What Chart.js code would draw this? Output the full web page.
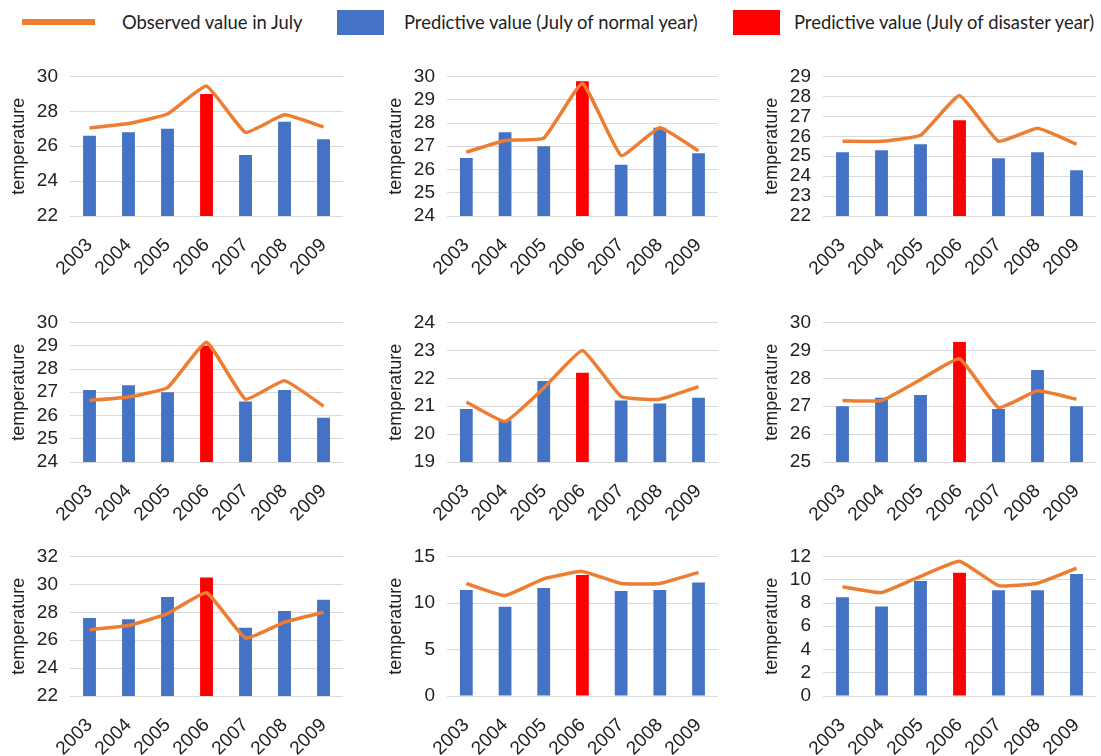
<!DOCTYPE html>
<html>
<head>
<meta charset="utf-8">
<title>July temperature: observed vs predicted</title>
<script src="https://cdn.jsdelivr.net/npm/chart.js@4.4.1/dist/chart.umd.min.js"></script>
<style>
  body { margin: 0; background: #fff; width: 1101px; height: 756px; overflow: hidden; position: relative; font-family: Lato, "Open Sans", sans-serif; color: #222; }
  .sw { position: absolute; }
  .lbl { position: absolute; font-size: 18.4px; line-height: 20px; white-space: nowrap; }
  .panel { position: absolute; }
</style>
</head>
<body>
<div class="sw" style="left:22px;top:19px;width:73px;height:6px;background:#ed7d31"></div>
<div class="lbl" style="left:122px;top:12px">Observed value in July</div>
<div class="sw" style="left:337px;top:10px;width:47px;height:25px;background:#4472c4"></div>
<div class="lbl" style="left:404px;top:12px">Predictive value (July of normal year)</div>
<div class="sw" style="left:733px;top:10px;width:47px;height:25px;background:#ff0000"></div>
<div class="lbl" style="left:794px;top:12px">Predictive value (July of disaster year)</div>

<script>
const years = ["2003", "2004", "2005", "2006", "2007", "2008", "2009"];
const disasterYear = "2006";

// observed July temperature (line) and predicted value (bars), one pair per site
const observed1 = [27.05, 27.3, 27.85, 29.45, 26.8, 27.8, 27.1];
const predicted1 = [26.6, 26.8, 27.0, 29.0, 25.5, 27.4, 26.4];
const observed2 = [26.75, 27.25, 27.35, 29.7, 26.6, 27.8, 26.8];
const predicted2 = [26.5, 27.6, 27.0, 29.8, 26.2, 27.8, 26.7];
const observed3 = [25.75, 25.75, 26.05, 28.05, 25.75, 26.4, 25.6];
const predicted3 = [25.2, 25.3, 25.6, 26.8, 24.9, 25.2, 24.3];
const observed4 = [26.65, 26.8, 27.2, 29.15, 26.7, 27.5, 26.4];
const predicted4 = [27.1, 27.3, 27.0, 29.0, 26.6, 27.1, 25.9];
const observed5 = [21.15, 20.45, 21.65, 23.0, 21.35, 21.25, 21.7];
const predicted5 = [20.9, 20.5, 21.9, 22.2, 21.2, 21.1, 21.3];
const observed6 = [27.2, 27.2, 27.95, 28.7, 26.95, 27.55, 27.25];
const predicted6 = [27.0, 27.3, 27.4, 29.3, 26.9, 28.3, 27.0];
const observed7 = [26.75, 27.05, 27.9, 29.4, 26.15, 27.3, 28.0];
const predicted7 = [27.6, 27.5, 29.1, 30.5, 26.9, 28.1, 28.9];
const observed8 = [12.1, 10.8, 12.6, 13.4, 12.1, 12.1, 13.3];
const predicted8 = [11.4, 9.6, 11.6, 13.0, 11.3, 11.4, 12.2];
const observed9 = [9.4, 8.9, 10.3, 11.6, 9.5, 9.7, 11.0];
const predicted9 = [8.5, 7.7, 9.9, 10.6, 9.1, 9.1, 10.5];

// y axis range per panel: [min, max, step]
const yTicks1 = [22, 30, 2];
const yTicks2 = [24, 30, 1];
const yTicks3 = [22, 29, 1];
const yTicks4 = [24, 30, 1];
const yTicks5 = [19, 24, 1];
const yTicks6 = [25, 30, 1];
const yTicks7 = [22, 32, 2];
const yTicks8 = [0, 15, 5];
const yTicks9 = [0, 12, 2];

const panels = [
  [observed1, predicted1, yTicks1], [observed2, predicted2, yTicks2], [observed3, predicted3, yTicks3],
  [observed4, predicted4, yTicks4], [observed5, predicted5, yTicks5], [observed6, predicted6, yTicks6],
  [observed7, predicted7, yTicks7], [observed8, predicted8, yTicks8], [observed9, predicted9, yTicks9]
];

// 3x3 grid of canvases
const colLeft = [0, 377, 753];
const colWidth = [350, 348, 350];
const rowTop = [55, 301, 535];
const H = 221;
const ink = "#222";

panels.forEach(([obs, pred, [lo, hi, step]], i) => {
  const box = document.createElement("div");
  box.className = "panel";
  box.style.left = colLeft[i % 3] + "px";
  box.style.top = rowTop[Math.floor(i / 3)] + "px";
  const canvas = document.createElement("canvas");
  canvas.width = colWidth[i % 3];
  canvas.height = H;
  box.appendChild(canvas);
  document.body.appendChild(box);

  new Chart(canvas.getContext("2d"), {
    data: {
      labels: years,
      datasets: [
        {
          type: "line",
          data: obs,
          borderColor: "#ed7d31",
          borderWidth: 3.5,
          pointRadius: 0,
          tension: 0.12,
          order: 0,
        },
        {
          type: "bar",
          data: pred,
          backgroundColor: years.map((y) => (y === disasterYear ? "#ff0000" : "#4472c4")),
          barPercentage: 1,
          categoryPercentage: 0.33,
          order: 1,
        },
      ],
    },
    options: {
      responsive: false,
      animation: false,
      devicePixelRatio: 1,
      layout: { padding: { top: 12, right: 5, left: 0, bottom: 0 } },
      plugins: { legend: { display: false }, tooltip: { enabled: false } },
      scales: {
        x: {
          grid: { display: false },
          border: { display: false },
          ticks: { color: ink, font: { size: 19 }, minRotation: 45, maxRotation: 45, autoSkip: false, padding: 10 },
          afterFit(scale) { scale.height = 60; },
        },
        y: {
          min: lo,
          max: hi,
          grid: { color: "#d9d9d9", drawTicks: false },
          border: { display: false },
          ticks: { stepSize: step, autoSkip: false, color: ink, font: { size: 19, lineHeight: 1 }, padding: 12 },
          title: { display: true, text: "temperature", color: ink, font: { size: 18 }, padding: { top: 8, bottom: 0 } },
          afterFit(scale) { scale.width = 70; },
        },
      },
    },
  });
});
</script>
</body>
</html>
